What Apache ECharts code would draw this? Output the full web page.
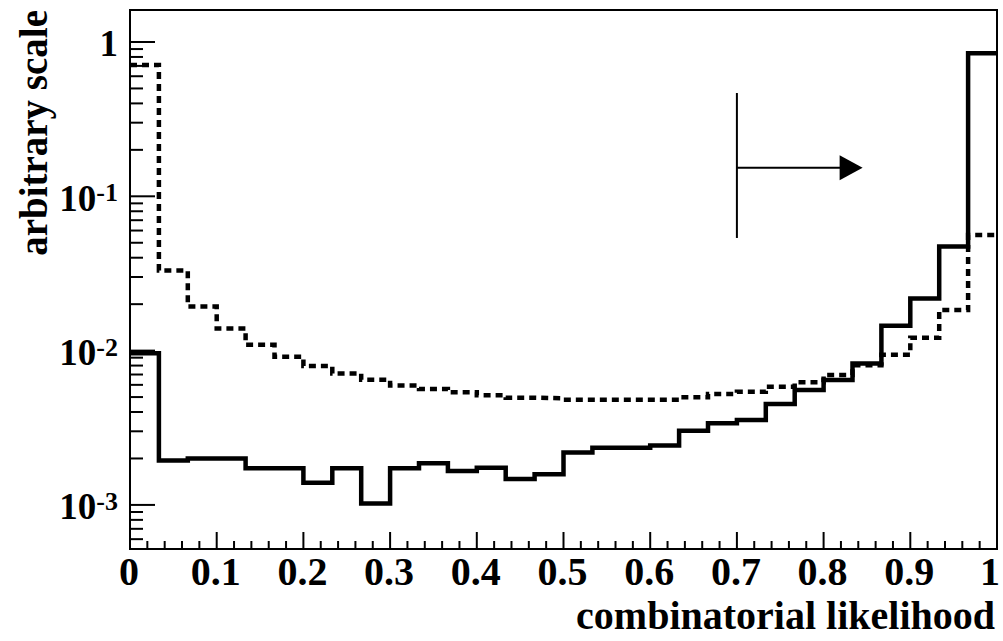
<!DOCTYPE html>
<html>
<head>
<meta charset="utf-8">
<script src="https://cdn.jsdelivr.net/npm/echarts@6/dist/echarts.min.js"></script>
<style>
html,body{margin:0;padding:0;background:#fff;}
#chart{width:1003px;height:641px;}
</style>
</head>
<body>
<div id="chart"></div>
<script>
// ---- data ----
const nBins = 30;
const solidValues = [0.0096, 0.00194, 0.0020, 0.0020, 0.00173, 0.00173, 0.00139, 0.00173, 0.00102, 0.00173,
  0.00186, 0.00166, 0.00174, 0.00147, 0.00158, 0.00219, 0.00235, 0.00235, 0.00243, 0.00303,
  0.00338, 0.00355, 0.00451, 0.00556, 0.00644, 0.00826, 0.0145, 0.0218, 0.0472, 0.845];
const dottedValues = [0.71, 0.0330, 0.0193, 0.0139, 0.0109, 0.00912, 0.00794, 0.00712, 0.00648, 0.00595,
  0.00564, 0.00537, 0.00513, 0.00495, 0.00491, 0.00481, 0.00481, 0.00481, 0.00481, 0.00499,
  0.00523, 0.00542, 0.00584, 0.00623, 0.00695, 0.00803, 0.0094, 0.0121, 0.0183, 0.0561];
const xMin = 0, xMax = 1;
const yMin = 0.000518, yMax = 1.612;
const xTickValues = [0, 0.1, 0.2, 0.3, 0.4, 0.5, 0.6, 0.7, 0.8, 0.9, 1];
const xTickLabels = ['0', '0.1', '0.2', '0.3', '0.4', '0.5', '0.6', '0.7', '0.8', '0.9', '1'];
const yTickValues = [1, 0.1, 0.01, 0.001];
const yTickBase = ['1', '10', '10', '10'];
const yTickExp = ['', '-1', '-2', '-3'];
// cut annotation: [x of cut, y top, y bottom, y of arrow, x of arrow tip]
const cutArrow = [0.7, 0.467, 0.0537, 0.153, 0.845];
const xTitle = 'combinatorial likelihood';
const yTitle = 'arbitrary scale';

// ---- build ----
function stepData(vals) {
  const out = [];
  for (let i = 0; i < vals.length; i++) out.push([i / nBins, vals[i]]);
  out.push([xMax, vals[vals.length - 1]]);
  return out;
}
const yTicks = [];
for (let e = -4; e <= 0; e++) {
  for (let m = 1; m <= 9; m++) {
    const v = m * Math.pow(10, e);
    if (v >= yMin && v <= yMax) yTicks.push([xMin, v, m === 1 ? 1 : 0]);
  }
}
const xTicks = [];
for (let i = 0; i <= 50; i++) {
  xTicks.push([i / 50, yMin, i % 5 === 0 ? 1 : 0]);
}
const FONT = '"Liberation Serif"';

const chart = echarts.init(document.getElementById('chart'), null, {renderer: 'svg'});
chart.setOption({
  animation: false,
  backgroundColor: '#fff',
  grid: {left: 130, right: 6, top: 10, bottom: 92, show: true, borderColor: '#000', borderWidth: 2,
         containLabel: false, outerBoundsMode: 'none'},
  xAxis: {
    type: 'value', min: xMin, max: xMax, interval: 0.1,
    axisLine: {show: false}, axisTick: {show: false}, splitLine: {show: false}, axisLabel: {show: false}
  },
  yAxis: {
    type: 'log', logBase: 10, min: yMin, max: yMax,
    axisLine: {show: false}, axisTick: {show: false}, splitLine: {show: false}, axisLabel: {show: false}
  },
  graphic: [
    {type: 'text', x: 995, y: 615, style: {text: xTitle, font: 'bold 40px "Liberation Serif"', fill: '#000', align: 'right', verticalAlign: 'middle'}},
    {type: 'text', x: 33, y: 10, rotation: Math.PI / 2, style: {text: yTitle, font: 'bold 39px "Liberation Serif"', fill: '#000', align: 'right', verticalAlign: 'middle'}}
  ],
  series: [
    {
      type: 'line', step: 'end', data: stepData(dottedValues), showSymbol: false, symbol: 'none',
      lineStyle: {color: '#000', width: 4.5, type: [7, 5], cap: 'butt', join: 'miter'}, z: 3
    },
    {
      type: 'line', step: 'end', data: stepData(solidValues), showSymbol: false, symbol: 'none',
      lineStyle: {color: '#000', width: 4.5, type: 'solid', cap: 'butt', join: 'miter'}, z: 4
    },
    {
      type: 'custom', data: yTicks, z: 5, clip: false,
      renderItem: function (params, api) {
        const p = api.coord([api.value(0), api.value(1)]);
        const len = api.value(2) ? 25 : 13;
        return {type: 'line', shape: {x1: p[0], y1: p[1], x2: p[0] + len, y2: p[1]}, style: {stroke: '#000', lineWidth: 2}};
      }
    },
    {
      type: 'custom', data: xTicks, z: 5, clip: false,
      renderItem: function (params, api) {
        const p = api.coord([api.value(0), api.value(1)]);
        const len = api.value(2) ? 17 : 8;
        return {type: 'line', shape: {x1: p[0], y1: p[1], x2: p[0], y2: p[1] - len}, style: {stroke: '#000', lineWidth: 2}};
      }
    },
    {
      type: 'custom', z: 5, clip: false,
      data: xTickValues.map(function (v) { return [v, yMin]; }),
      renderItem: function (params, api) {
        const p = api.coord([api.value(0), api.value(1)]);
        const last = params.dataIndex === xTickValues.length - 1;
        return {
          type: 'text', x: last ? p[0] + 3 : p[0] - 1, y: p[1] + 2,
          style: {text: xTickLabels[params.dataIndex], font: 'bold 40px "Liberation Serif"', fill: '#000',
                  align: last ? 'right' : 'center', verticalAlign: 'top'}
        };
      }
    },
    {
      type: 'custom', z: 5, clip: false,
      data: yTickValues.map(function (v) { return [xMin, v]; }),
      renderItem: function (params, api) {
        const p = api.coord([api.value(0), api.value(1)]);
        const i = params.dataIndex;
        const txt = yTickExp[i] ? '{b|' + yTickBase[i] + '}{s|' + yTickExp[i] + '}' : '{b|' + yTickBase[i] + '}';
        return {
          type: 'text', x: p[0] - 12, y: p[1] + 2,
          style: {
            text: txt, align: 'right', verticalAlign: 'middle', fill: '#000',
            rich: {
              b: {fontFamily: FONT, fontWeight: 'bold', fontSize: 37, fill: '#000', color: '#000'},
              s: {fontFamily: FONT, fontWeight: 'bold', fontSize: 26, fill: '#000', color: '#000', verticalAlign: 'top'}
            }
          }
        };
      }
    },
    {
      type: 'custom', data: [cutArrow], z: 6,
      renderItem: function (params, api) {
        const top = api.coord([api.value(0), api.value(1)]);
        const bot = api.coord([api.value(0), api.value(2)]);
        const a0 = api.coord([api.value(0), api.value(3)]);
        const a1 = api.coord([api.value(4), api.value(3)]);
        const headLen = 23, headHalf = 12.5;
        return {
          type: 'group',
          children: [
            {type: 'line', shape: {x1: top[0], y1: top[1], x2: bot[0], y2: bot[1]}, style: {stroke: '#000', lineWidth: 2}},
            {type: 'line', shape: {x1: a0[0], y1: a0[1], x2: a1[0] - headLen + 1, y2: a1[1]}, style: {stroke: '#000', lineWidth: 2}},
            {type: 'polygon', shape: {points: [[a1[0], a1[1]], [a1[0] - headLen, a1[1] - headHalf], [a1[0] - headLen, a1[1] + headHalf]]}, style: {fill: '#000'}}
          ]
        };
      }
    }
  ]
});
</script>
</body>
</html>
